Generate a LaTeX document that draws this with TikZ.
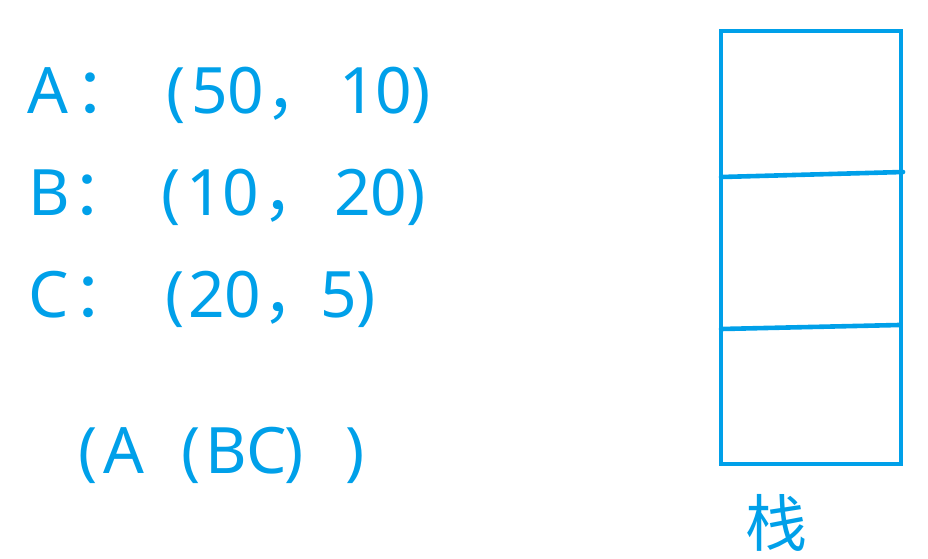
\documentclass[tikz,border=0pt]{standalone}
\usepackage{fontspec}
\setmainfont{Noto Sans}
\newfontfamily\cjk{Noto Sans CJK SC}
\definecolor{sky}{HTML}{00A0E9}
\tikzset{
  txt/.style={anchor=base west, inner sep=0pt, text=sky, font=\fontsize{64}{64}\selectfont},
  cj/.style={txt, font=\cjk\fontsize{64}{64}\selectfont},
  stackline/.style={draw=sky, line width=4pt},
  divline/.style={draw=sky, line width=4.6pt, line cap=round}
}
\begin{document}
\begin{tikzpicture}[x=1pt,y=-1pt]
\useasboundingbox (0,0) rectangle (928,558);
% line A
\node[txt] (a1) at (27,113) {A};
\node[cj]  (a2) at (74,113) {：};
\node[txt] (a3) at (166,113) {(};
\node[txt] (a4) at (191,113) {50};
\node[cj]  (a5) at (265,113) {，};
\node[txt] (a6) at (339,113) {10};
\node[txt] (a7) at (411,113) {)};
% line B
\node[txt] (b1) at (28,215) {B};
\node[cj]  (b2) at (71,215) {：};
\node[txt] (b3) at (161,215) {(};
\node[txt] (b4) at (186,215) {10};
\node[cj]  (b5) at (262,215) {，};
\node[txt] (b6) at (334,215) {20};
\node[txt] (b7) at (406,215) {)};
% line C
\node[txt] (c1) at (28,317) {C};
\node[cj]  (c2) at (72,317) {：};
\node[txt] (c3) at (165,317) {(};
\node[txt] (c4) at (188,317) {20};
\node[cj]  (c5) at (262,317) {，};
\node[txt] (c6) at (320,317) {5};
\node[txt] (c7) at (356,317) {)};
% expression
\node[txt] (d1) at (78,473) {(};
\node[txt] (d2) at (103,473) {A};
\node[txt] (d3) at (181,473) {(};
\node[txt] (d4) at (205,473) {BC};
\node[txt] (d5) at (284,473) {)};
\node[txt] (d6) at (345,473) {)};
% stack
\coordinate (s1) at (721,177);
\coordinate (s2) at (903,172);
\coordinate (s3) at (721,329);
\coordinate (s4) at (899,325);
\draw[stackline] (721,31) rectangle (901,464);
\draw[divline] (s1) -- (s2);
\draw[divline] (s3) -- (s4);
\node[cj, anchor=center, font=\cjk\fontsize{62}{62}\selectfont] (zhan) at (776,523) {栈};
\end{tikzpicture}
\end{document}
